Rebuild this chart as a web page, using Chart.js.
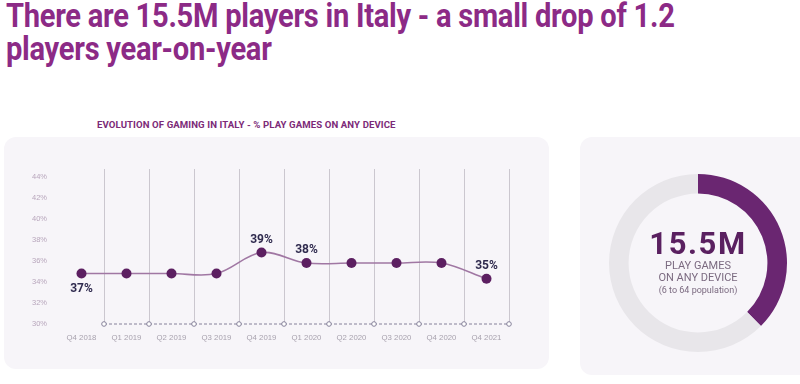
<!DOCTYPE html>
<html>
<head>
<meta charset="utf-8">
<script src="https://cdn.jsdelivr.net/npm/chart.js@4/dist/chart.umd.min.js"></script>
<style>
  html, body { margin:0; padding:0; background:#fff; }
  body { width:800px; height:384px; position:relative; overflow:hidden; font-family:Roboto, "Noto Sans", sans-serif; }
  h1 { position:absolute; left:6px; top:-1px; margin:0; font-family:Roboto, sans-serif; font-weight:700;
       font-size:34px; line-height:33px; color:#8c2a86; letter-spacing:-0.3px; white-space:nowrap;
       transform:scaleX(0.855); transform-origin:0 0; }
  .sub { position:absolute; left:97px; top:119px; font-size:9.6px; font-weight:700; color:#7c2a78; letter-spacing:0.1px; }
  .card { position:absolute; background:#f7f5f9; border-radius:12px; }
  #lineCard { left:4px; top:137px; width:545px; height:232px; }
  #donutCard { left:580px; top:137px; width:240px; height:238px; }
  #lineWrap { position:absolute; left:0; top:150px; width:560px; height:220px; }
  #donutWrap { position:absolute; left:598px; top:163px; width:200px; height:200px; }
  .center { position:absolute; left:598px; width:200px; text-align:center; color:#7b6a80; }
</style>
</head>
<body>
<h1>There are 15.5M players in Italy - a small drop of 1.2<br>players year-on-year</h1>
<div class="sub">EVOLUTION OF GAMING IN ITALY - % PLAY GAMES ON ANY DEVICE</div>
<div class="card" id="lineCard"></div>
<div class="card" id="donutCard"></div>
<div id="lineWrap"><canvas id="lineChart"></canvas></div>
<div id="donutWrap"><canvas id="donutChart"></canvas></div>
<div class="center" style="top:228px;font-size:31px;font-weight:700;color:#5a2060;letter-spacing:1.6px;line-height:32px;">15.5M</div>
<div class="center" style="top:260px;font-size:11px;line-height:12px;">PLAY GAMES<br>ON ANY DEVICE</div>
<div class="center" style="top:285px;font-size:9px;">(6 to 64 population)</div>
<script>
const $ = (id) => document.getElementById(id);

// data
const quarters = ['Q4 2018','Q1 2019','Q2 2019','Q3 2019','Q4 2019','Q1 2020','Q2 2020','Q3 2020','Q4 2020','Q4 2021'];
const playShare = [34.8, 34.8, 34.8, 34.8, 36.8, 35.8, 35.8, 35.8, 35.8, 34.3];
const pointLabels = ['37%', '', '', '', '39%', '38%', '', '', '', '35%'];
const labelBelow = [true, false, false, false, false, false, false, false, false, false];
const yTicks = [30, 32, 34, 36, 38, 40, 42, 44];
const baselineX = [0.5, 1.5, 2.5, 3.5, 4.5, 5.5, 6.5, 7.5, 8.5, 9.5];
const donutLabels = ['Play games', 'Rest'];
const donutValues = [37.5, 62.5];

const labelPlugin = {
  id: 'pointText',
  afterDatasetsDraw(chart) {
    const meta = chart.getDatasetMeta(0);
    const ctx = chart.ctx;
    ctx.save();
    ctx.font = 'bold 12px Roboto, sans-serif';
    ctx.fillStyle = '#2f2a4e';
    ctx.textAlign = 'center';
    meta.data.forEach((pt, i) => {
      if (!pointLabels[i]) return;
      ctx.textBaseline = labelBelow[i] ? 'top' : 'bottom';
      ctx.fillText(pointLabels[i], pt.x, labelBelow[i] ? pt.y + 9 : pt.y - 7);
    });
    ctx.restore();
  }
};

new Chart($('lineChart'), {
  type: 'line',
  data: {
    datasets: [
      {
        data: playShare.map((v, i) => ({x: i, y: v})),
        borderColor: '#a077a3', borderWidth: 1.6, tension: 0.35,
        pointRadius: 5, pointHoverRadius: 5, pointBackgroundColor: '#5c1f61', pointBorderWidth: 0
      },
      {
        data: baselineX.map(x => ({x, y: 30})),
        borderColor: '#85809a', borderWidth: 1, borderDash: [3, 2],
        pointRadius: 2.3, pointBackgroundColor: '#ffffff', pointBorderColor: '#85809a', pointBorderWidth: 1
      }
    ]
  },
  options: {
    responsive: true, maintainAspectRatio: false, animation: false,
    clip: false,
    layout: {padding: {left: 0, right: 51, top: 19, bottom: 16}},
    plugins: {legend: {display: false}, tooltip: {enabled: false}},
    scales: {
      x: {
        type: 'linear', min: -0.5, max: 9.5,
        afterBuildTicks: s => { s.ticks = []; for (let i = -1; i < 20; i++) s.ticks.push({value: i / 2}); },
        afterFit: s => { s.height = 30; },
        ticks: {
          autoSkip: false, maxRotation: 0, padding: 9, color: '#a8a2ae', font: {size: 7.8},
          callback: v => Number.isInteger(v) ? quarters[v] : ''
        },
        grid: {
          drawTicks: false, lineWidth: 1,
          color: c => (c.tick && !Number.isInteger(c.tick.value) && c.tick.value > 0) ? '#cbc7cf' : 'rgba(0,0,0,0)'
        },
        border: {display: false}
      },
      y: {
        min: 30, max: 44.75,
        afterBuildTicks: s => { s.ticks = yTicks.map(v => ({value: v})); },
        afterFit: s => { s.width = 59; },
        ticks: {padding: 4, color: '#b8a6bc', font: {size: 7.5}, callback: v => v + '%'},
        grid: {display: false},
        border: {display: false}
      }
    }
  },
  plugins: [labelPlugin]
});

new Chart($('donutChart'), {
  type: 'doughnut',
  data: {
    labels: donutLabels,
    datasets: [{data: donutValues, backgroundColor: ['#6a2671', '#e8e6ea'], borderWidth: 0}]
  },
  options: {
    responsive: true, maintainAspectRatio: false, animation: false,
    cutout: '78%',
    layout: {padding: 11},
    plugins: {legend: {display: false}, tooltip: {enabled: false}}
  }
});
</script>
</body>
</html>
